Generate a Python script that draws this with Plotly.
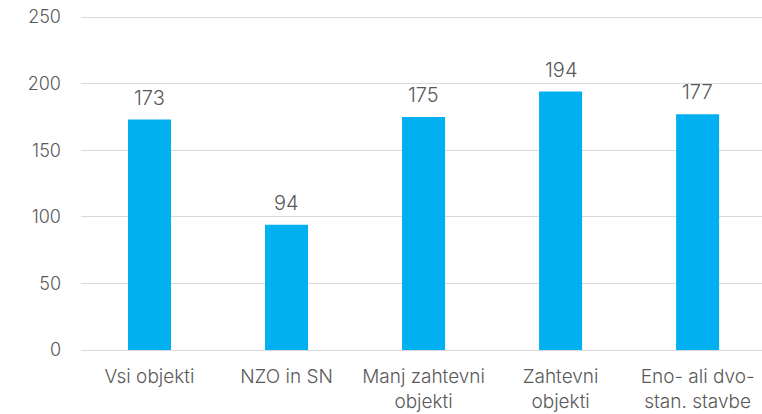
import plotly.graph_objects as go

categories = ["Vsi objekti", "NZO in SN", "Manj zahtevni<br>objekti", "Zahtevni<br>objekti", "Eno- ali dvo-<br>stan. stavbe"]
values = [173, 94, 175, 194, 177]
y_ticks = [0, 50, 100, 150, 200, 250]

TXT = "#595959"
fig = go.Figure(go.Bar(
    x=categories, y=values,
    marker=dict(color="#00B0F0", line=dict(width=0)),
    hoverinfo="x+y",
))
for c, v in zip(categories, values):
    fig.add_annotation(x=c, y=v, text=str(v), showarrow=False, yanchor="bottom",
                       yshift=8, font=dict(family="Inter", size=20, color=TXT, weight=300))
fig.update_layout(
    width=762, height=414,
    margin=dict(l=81, r=0, t=15, b=64),
    paper_bgcolor="white", plot_bgcolor="white",
    bargap=0.686,
    showlegend=False,
    font=dict(family="Inter", size=18, color=TXT, weight=300),
)
fig.update_xaxes(range=[-0.5, 4.47], showgrid=False, showline=False, ticks="",
                 ticklabelstandoff=13, automargin=False,
                 tickfont=dict(size=19, color=TXT, weight=300))
fig.update_yaxes(range=[0, 251.5], tickvals=y_ticks, showgrid=True, gridcolor="#D9D9D9",
                 gridwidth=1, zeroline=True, zerolinecolor="#D9D9D9", zerolinewidth=1,
                 ticks="", ticklabelstandoff=19, automargin=False,
                 tickfont=dict(size=18, color=TXT, weight=300))
fig.write_html("out.html", config={"displayModeBar": False},
               post_script="document.body.style.margin='0';")
